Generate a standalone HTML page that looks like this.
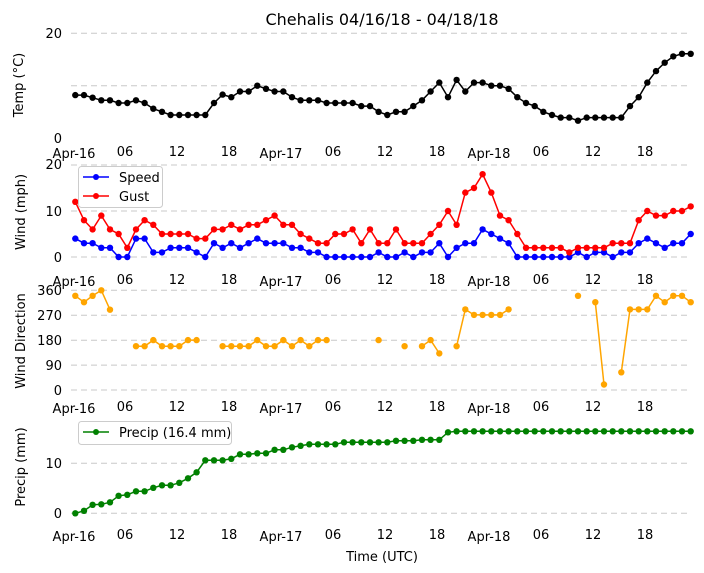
<!DOCTYPE html>
<html><head><meta charset="utf-8"><style>
body{margin:0;background:#fff}
svg{display:block;font-family:"DejaVu Sans","Liberation Sans",sans-serif}
</style></head><body>
<svg id="s" width="704" height="573" viewBox="0 0 704 573" xmlns="http://www.w3.org/2000/svg">
<g id="grid" stroke="#c8c8c8" stroke-width="1" stroke-dasharray="6,4"></g>
<text x="382" y="25" font-size="16" text-anchor="middle">Chehalis 04/16/18 - 04/18/18</text>
<g font-size="13" text-anchor="end">
<text x="62" y="38">20</text><text x="62" y="143">0</text>
<text x="62" y="169">20</text><text x="62" y="216">10</text><text x="62" y="262">0</text>
<text x="62" y="295">360</text><text x="62" y="320">270</text><text x="62" y="345">180</text><text x="62" y="370">90</text><text x="62" y="395">0</text>
<text x="62" y="468">10</text><text x="62" y="518">0</text>
</g>
<g font-size="13" text-anchor="middle">
<text transform="translate(23,85) rotate(-90)">Temp (°C)</text>
<text transform="translate(25,212) rotate(-90)">Wind (mph)</text>
<text transform="translate(25,341) rotate(-90)">Wind Direction</text>
<text transform="translate(25,467) rotate(-90)">Precip (mm)</text>
<text x="382" y="561">Time (UTC)</text>
</g>
<g font-size="13" text-anchor="middle">
<text x="74" y="158">Apr-16</text><text x="125" y="156">06</text><text x="177" y="156">12</text><text x="229" y="156">18</text><text x="281" y="158">Apr-17</text><text x="333" y="156">06</text><text x="385" y="156">12</text><text x="437" y="156">18</text><text x="489" y="158">Apr-18</text><text x="541" y="156">06</text><text x="593" y="156">12</text><text x="645" y="156">18</text>
<text x="74" y="286">Apr-16</text><text x="125" y="284">06</text><text x="177" y="284">12</text><text x="229" y="284">18</text><text x="281" y="286">Apr-17</text><text x="333" y="284">06</text><text x="385" y="284">12</text><text x="437" y="284">18</text><text x="489" y="286">Apr-18</text><text x="541" y="284">06</text><text x="593" y="284">12</text><text x="645" y="284">18</text>
<text x="74" y="413">Apr-16</text><text x="125" y="411">06</text><text x="177" y="411">12</text><text x="229" y="411">18</text><text x="281" y="413">Apr-17</text><text x="333" y="411">06</text><text x="385" y="411">12</text><text x="437" y="411">18</text><text x="489" y="413">Apr-18</text><text x="541" y="411">06</text><text x="593" y="411">12</text><text x="645" y="411">18</text>
<text x="74" y="541">Apr-16</text><text x="125" y="539">06</text><text x="177" y="539">12</text><text x="229" y="539">18</text><text x="281" y="541">Apr-17</text><text x="333" y="539">06</text><text x="385" y="539">12</text><text x="437" y="539">18</text><text x="489" y="541">Apr-18</text><text x="541" y="539">06</text><text x="593" y="539">12</text><text x="645" y="539">18</text>
</g>
<g id="data"></g>
<g>
<rect x="78.5" y="166.5" width="84" height="41" rx="3" fill="#fff" fill-opacity="0.85" stroke="#ccc"/>
<line x1="83" y1="177" x2="109" y2="177" stroke="#0000ff" stroke-width="1.5"/><circle cx="96" cy="177" r="3" fill="#0000ff"/>
<text x="119" y="182" font-size="13">Speed</text>
<line x1="83" y1="196" x2="109" y2="196" stroke="#ff0000" stroke-width="1.5"/><circle cx="96" cy="196" r="3" fill="#ff0000"/>
<text x="119" y="201" font-size="13">Gust</text>
<rect x="78.5" y="421.5" width="153" height="23" rx="3" fill="#fff" fill-opacity="0.85" stroke="#ccc"/>
<line x1="83" y1="432" x2="109" y2="432" stroke="#008000" stroke-width="1.5"/><circle cx="96" cy="432" r="3" fill="#008000"/>
<text x="119" y="437" font-size="13">Precip (16.4 mm)</text>
</g>
</svg>
<script>
var NS="http://www.w3.org/2000/svg";
var g=document.getElementById("grid"),d=document.getElementById("data");
[33.3,85.7,165,211,257,290.3,315.2,340.2,365.1,390,463.3,513.3].forEach(function(y){
 var l=document.createElementNS(NS,"line");l.setAttribute("x1",71);l.setAttribute("x2",691);l.setAttribute("y1",y);l.setAttribute("y2",y);g.appendChild(l);});
function X(i){return 75.3+8.667*i;}
var N=null;
var temp=[8.2,8.2,7.7,7.2,7.2,6.7,6.7,7.2,6.7,5.6,5.0,4.4,4.4,4.4,4.4,4.4,6.7,8.3,7.8,8.9,8.9,10,9.4,8.9,8.9,7.8,7.2,7.2,7.2,6.7,6.7,6.7,6.7,6.1,6.1,5.0,4.4,5.0,5.0,6.1,7.2,8.9,10.6,7.8,11.1,8.9,10.6,10.6,10,10,9.4,7.8,6.7,6.1,5.0,4.4,3.9,3.9,3.3,3.9,3.9,3.9,3.9,3.9,6.1,7.8,10.6,12.8,14.4,15.6,16.1,16.1];
var gust=[12,8,6,9,6,5,2,6,8,7,5,5,5,5,4,4,6,6,7,6,7,7,8,9,7,7,5,4,3,3,5,5,6,3,6,3,3,6,3,3,3,5,7,10,7,14,15,18,14,9,8,5,2,2,2,2,2,1,2,2,2,2,3,3,3,8,10,9,9,10,10,11];
var spd=[4,3,3,2,2,0,0,4,4,1,1,2,2,2,1,0,3,2,3,2,3,4,3,3,3,2,2,1,1,0,0,0,0,0,0,1,0,0,1,0,1,1,3,0,2,3,3,6,5,4,3,0,0,0,0,0,0,0,1,0,1,1,0,1,1,3,4,3,2,3,3,5];
var dir=[340,317,340,360,290,N,N,158,158,180,158,158,158,180,180,N,N,158,158,158,158,180,158,158,180,158,180,158,180,180,N,N,N,N,N,180,N,N,158,N,158,180,132,N,158,291,271,271,271,271,291,N,N,N,N,N,N,N,340,N,317,20,N,64,291,291,291,340,317,340,340,317];
var pr=[0,0.5,1.7,1.8,2.2,3.5,3.7,4.4,4.4,5.1,5.6,5.6,6.1,7,8.2,10.6,10.6,10.6,10.9,11.8,11.8,12,12,12.7,12.7,13.2,13.5,13.8,13.8,13.8,13.8,14.2,14.2,14.2,14.2,14.2,14.2,14.5,14.5,14.5,14.7,14.7,14.7,16.2];
while(pr.length<72)pr.push(16.4);
function series(v,y0,k,col){
 var segs=[],cur=[];
 v.forEach(function(a,i){if(a===null){if(cur.length)segs.push(cur);cur=[];}else cur.push([X(i),y0-a*k]);});
 if(cur.length)segs.push(cur);
 segs.forEach(function(s){if(s.length>1){var p=document.createElementNS(NS,"polyline");p.setAttribute("points",s.map(function(q){return q[0].toFixed(1)+","+q[1].toFixed(1)}).join(" "));p.setAttribute("fill","none");p.setAttribute("stroke",col);p.setAttribute("stroke-width","1.5");d.appendChild(p);}
 s.forEach(function(q){var c=document.createElementNS(NS,"circle");c.setAttribute("cx",q[0].toFixed(1));c.setAttribute("cy",q[1].toFixed(1));c.setAttribute("r","3.2");c.setAttribute("fill",col);d.appendChild(c);});});
}
series(temp,138,5.23,"#000");
series(spd,257,4.6,"#0000ff");
series(gust,257,4.6,"#ff0000");
series(dir,390,99.7/360,"#ffa500");
series(pr,513.3,5,"#008000");
</script>
</body></html>
